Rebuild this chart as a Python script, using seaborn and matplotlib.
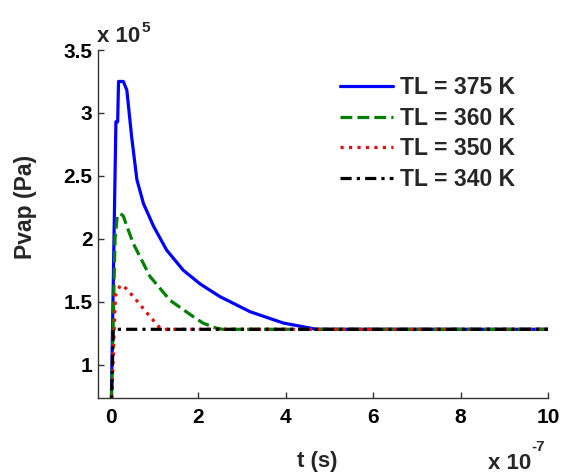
import numpy as np
import pandas as pd
import matplotlib
matplotlib.use("Agg")
import matplotlib.pyplot as plt
import seaborn as sns

# time in units of 1e-7 s, pressure in units of 1e5 Pa
t_375 = [0.0, 0.11, 0.15, 0.17, 0.28, 0.36, 0.47, 0.59, 0.74, 0.97, 1.27, 1.65, 2.04, 2.49, 3.18, 3.94, 4.55, 4.7, 10.0]
p_375 = [0.6, 2.93, 2.93, 3.25, 3.25, 3.18, 2.81, 2.47, 2.28, 2.10, 1.91, 1.75, 1.64, 1.54, 1.42, 1.33, 1.29, 1.28, 1.28]
t_360 = [0.0, 0.09, 0.14, 0.21, 0.28, 0.36, 0.51, 0.89, 1.35, 1.8, 2.1, 2.4, 2.55, 10.0]
p_360 = [0.6, 2.0, 2.18, 2.20, 2.18, 2.10, 1.96, 1.70, 1.51, 1.40, 1.33, 1.29, 1.28, 1.28]
t_350 = [0.0, 0.1, 0.21, 0.3, 0.51, 0.82, 1.12, 1.2, 10.0]
p_350 = [0.6, 1.55, 1.63, 1.62, 1.54, 1.41, 1.29, 1.28, 1.28]
t_340 = [0.0, 0.05, 10.0]
p_340 = [0.6, 1.28, 1.28]

labels = ["TL = 375 K", "TL = 360 K", "TL = 350 K", "TL = 340 K"]
colors = ["#0000ff", "#008000", "#e01010", "#000000"]
styles = ["-", "--", ":", (0, (3.5, 1.6, 1, 1.6))]

xticks = [0, 2, 4, 6, 8, 10]
yticks = [1, 1.5, 2, 2.5, 3, 3.5]
ytick_labels = ["1", "1.5", "2", "2.5", "3", "3.5"]

sns.set_style("ticks")
plt.rcParams["font.family"] = ["Liberation Sans", "DejaVu Sans"]
plt.rcParams["font.weight"] = "bold"

fig = plt.figure(figsize=(5.61, 4.73), dpi=100)
ax = fig.add_axes([98 / 561, 1 - 398 / 473, 450 / 561, 348 / 473])

series = [(t_375, p_375), (t_360, p_360), (t_350, p_350), (t_340, p_340)]
for (t, p), lab, c, ls in zip(series, labels, colors, styles):
    df = pd.DataFrame({"t": t, "P": p})
    sns.lineplot(data=df, x="t", y="P", ax=ax, color=c, linestyle=ls,
                 linewidth=2.3, label=lab, estimator=None, sort=False)

ax.set_xlim(-0.3, 10)
ax.set_ylim(0.734, 3.5)
ax.set_xticks(xticks)
ax.set_xticklabels([str(v) for v in xticks])
ax.set_yticks(yticks)
ax.set_yticklabels(ytick_labels)
for s in ["top", "right"]:
    ax.spines[s].set_visible(False)
for s in ["left", "bottom"]:
    ax.spines[s].set_color("#333333")
    ax.spines[s].set_linewidth(1.0)
ax.tick_params(direction="in", length=4, width=1, color="#333333",
               labelsize=15, labelcolor="black")
ax.tick_params(axis="x", pad=7)
ax.tick_params(axis="y", pad=4)
for lbl in ax.get_xticklabels() + ax.get_yticklabels():
    lbl.set_fontweight("bold")

ax.set_xlabel("t (s)", fontsize=16, fontweight="bold")
ax.set_ylabel("Pvap (Pa)", fontsize=16.5, fontweight="bold")
ax.xaxis.set_label_coords(0.487, -0.152)
ax.yaxis.set_label_coords(-0.136, 0.55)

leg = ax.legend(loc="upper left", bbox_to_anchor=(340 / 561, 1 - 76 / 473),
                bbox_transform=fig.transFigure, frameon=False,
                prop={"size": 16.5, "weight": "bold"},
                handlelength=2.3, handletextpad=0.3, labelspacing=0.33,
                borderpad=0, borderaxespad=0)

# scale multipliers
fig.text(97 / 561, 1 - 42 / 473, "x 10", fontsize=16, fontweight="bold",
         ha="left", va="baseline")
fig.text(141 / 561, 1 - 32 / 473, "5", fontsize=11, fontweight="bold",
         ha="left", va="baseline")
fig.text(488 / 561, 1 - 469 / 473, "x 10", fontsize=16, fontweight="bold",
         ha="left", va="baseline")
fig.text(531 / 561, 1 - 451 / 473, "-7", fontsize=11, fontweight="bold",
         ha="left", va="baseline")

fig.savefig("out.png", dpi=100)
